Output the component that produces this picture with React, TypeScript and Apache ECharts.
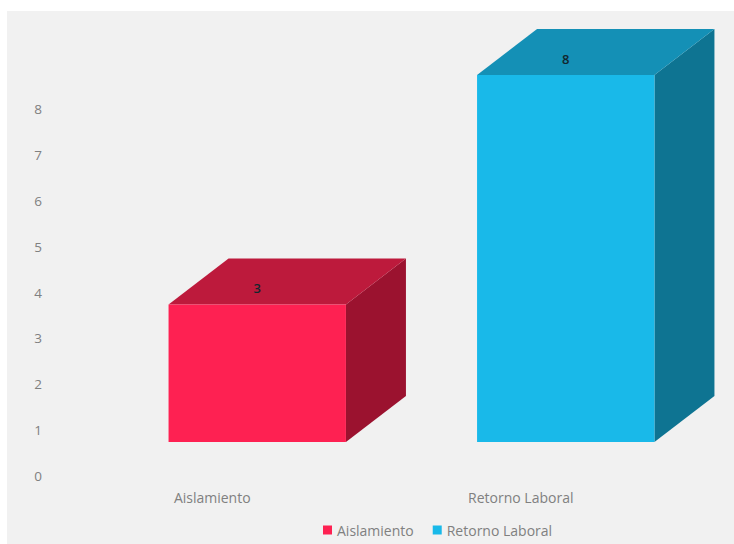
import React, { useEffect, useRef } from "react";
import * as echarts from "echarts";

const categories = ["Aislamiento", "Retorno Laboral"];
const aislamientoValues = [3, null];
const retornoValues = [null, 8];
const yTicks = [0, 8];

const FONT = "'Open Sans', 'Noto Sans', sans-serif";
const LIFT = 34;
const SHIFT = 45;
const DX = 60;
const DY = 46;
const WIDTH_RATIO = 0.575;

function box(front: string, top: string, side: string) {
  return (params: any, api: any) => {
    const val = api.value(1);
    if (val === null || val === undefined || Number.isNaN(val)) return null;
    const p = api.coord([api.value(0), val]);
    const base = api.coord([api.value(0), 0]);
    const w = (api.size([1, 0]) as number[])[0] * WIDTH_RATIO;
    const x0 = p[0] + SHIFT - w / 2;
    const x1 = x0 + w;
    const yT = p[1] - LIFT;
    const yB = base[1] - LIFT;
    return {
      type: "group",
      children: [
        {
          type: "polygon",
          shape: { points: [[x1, yT], [x1 + DX, yT - DY], [x1 + DX, yB - DY], [x1, yB]] },
          style: { fill: side },
        },
        {
          type: "polygon",
          shape: { points: [[x0, yT], [x0 + DX, yT - DY], [x1 + DX, yT - DY], [x1, yT]] },
          style: { fill: top },
        },
        { type: "rect", shape: { x: x0, y: yT, width: w, height: yB - yT }, style: { fill: front } },
        {
          type: "text",
          style: {
            x: x0 + w / 2,
            y: yT - 16,
            text: String(val),
            fill: "#12262e",
            font: `600 13px ${FONT}`,
            textAlign: "center",
            textVerticalAlign: "middle",
          },
        },
      ],
    };
  };
}

export default function App() {
  const ref = useRef<HTMLDivElement>(null);
  useEffect(() => {
    document.body.style.margin = "0";
    const chart = echarts.init(ref.current!, undefined, { renderer: "svg" });
    chart.setOption({
      animation: false,
      backgroundColor: "#ffffff",
      graphic: [
        {
          type: "rect",
          z: -10,
          silent: true,
          shape: { x: 7, y: 11, width: 727, height: 533 },
          style: { fill: "#f1f1f1" },
        },
      ],
      grid: { left: 58, right: 59, top: 109, bottom: 68 },
      legend: {
        top: 518,
        left: 318,
        itemWidth: 9,
        itemHeight: 9,
        itemGap: 19,
        icon: "rect",
        textStyle: { color: "#808080", fontSize: 14, fontFamily: FONT },
        data: categories,
      },
      xAxis: {
        type: "category",
        data: categories,
        axisLine: { show: false },
        axisTick: { show: false },
        axisLabel: { color: "#808080", fontSize: 14, fontFamily: FONT, margin: 14 },
      },
      yAxis: {
        type: "value",
        min: yTicks[0],
        max: yTicks[1],
        interval: 1,
        splitLine: { show: false },
        axisLine: { show: false },
        axisTick: { show: false },
        axisLabel: { color: "#808080", fontSize: 13.5, fontFamily: FONT, margin: 16 },
      },
      series: [
        {
          name: categories[0],
          type: "custom",
          clip: false,
          encode: { x: 0, y: 1 },
          itemStyle: { color: "#fe2152" },
          data: aislamientoValues.map((v, i) => [i, v]),
          renderItem: box("#fe2152", "#bd1a3c", "#9b122f"),
        },
        {
          name: categories[1],
          type: "custom",
          clip: false,
          encode: { x: 0, y: 1 },
          itemStyle: { color: "#19b9e9" },
          data: retornoValues.map((v, i) => [i, v]),
          renderItem: box("#19b9e9", "#1490b6", "#0e7492"),
        },
      ],
    });
    return () => chart.dispose();
  }, []);
  return <div ref={ref} style={{ width: 734, height: 544 }} />;
}
